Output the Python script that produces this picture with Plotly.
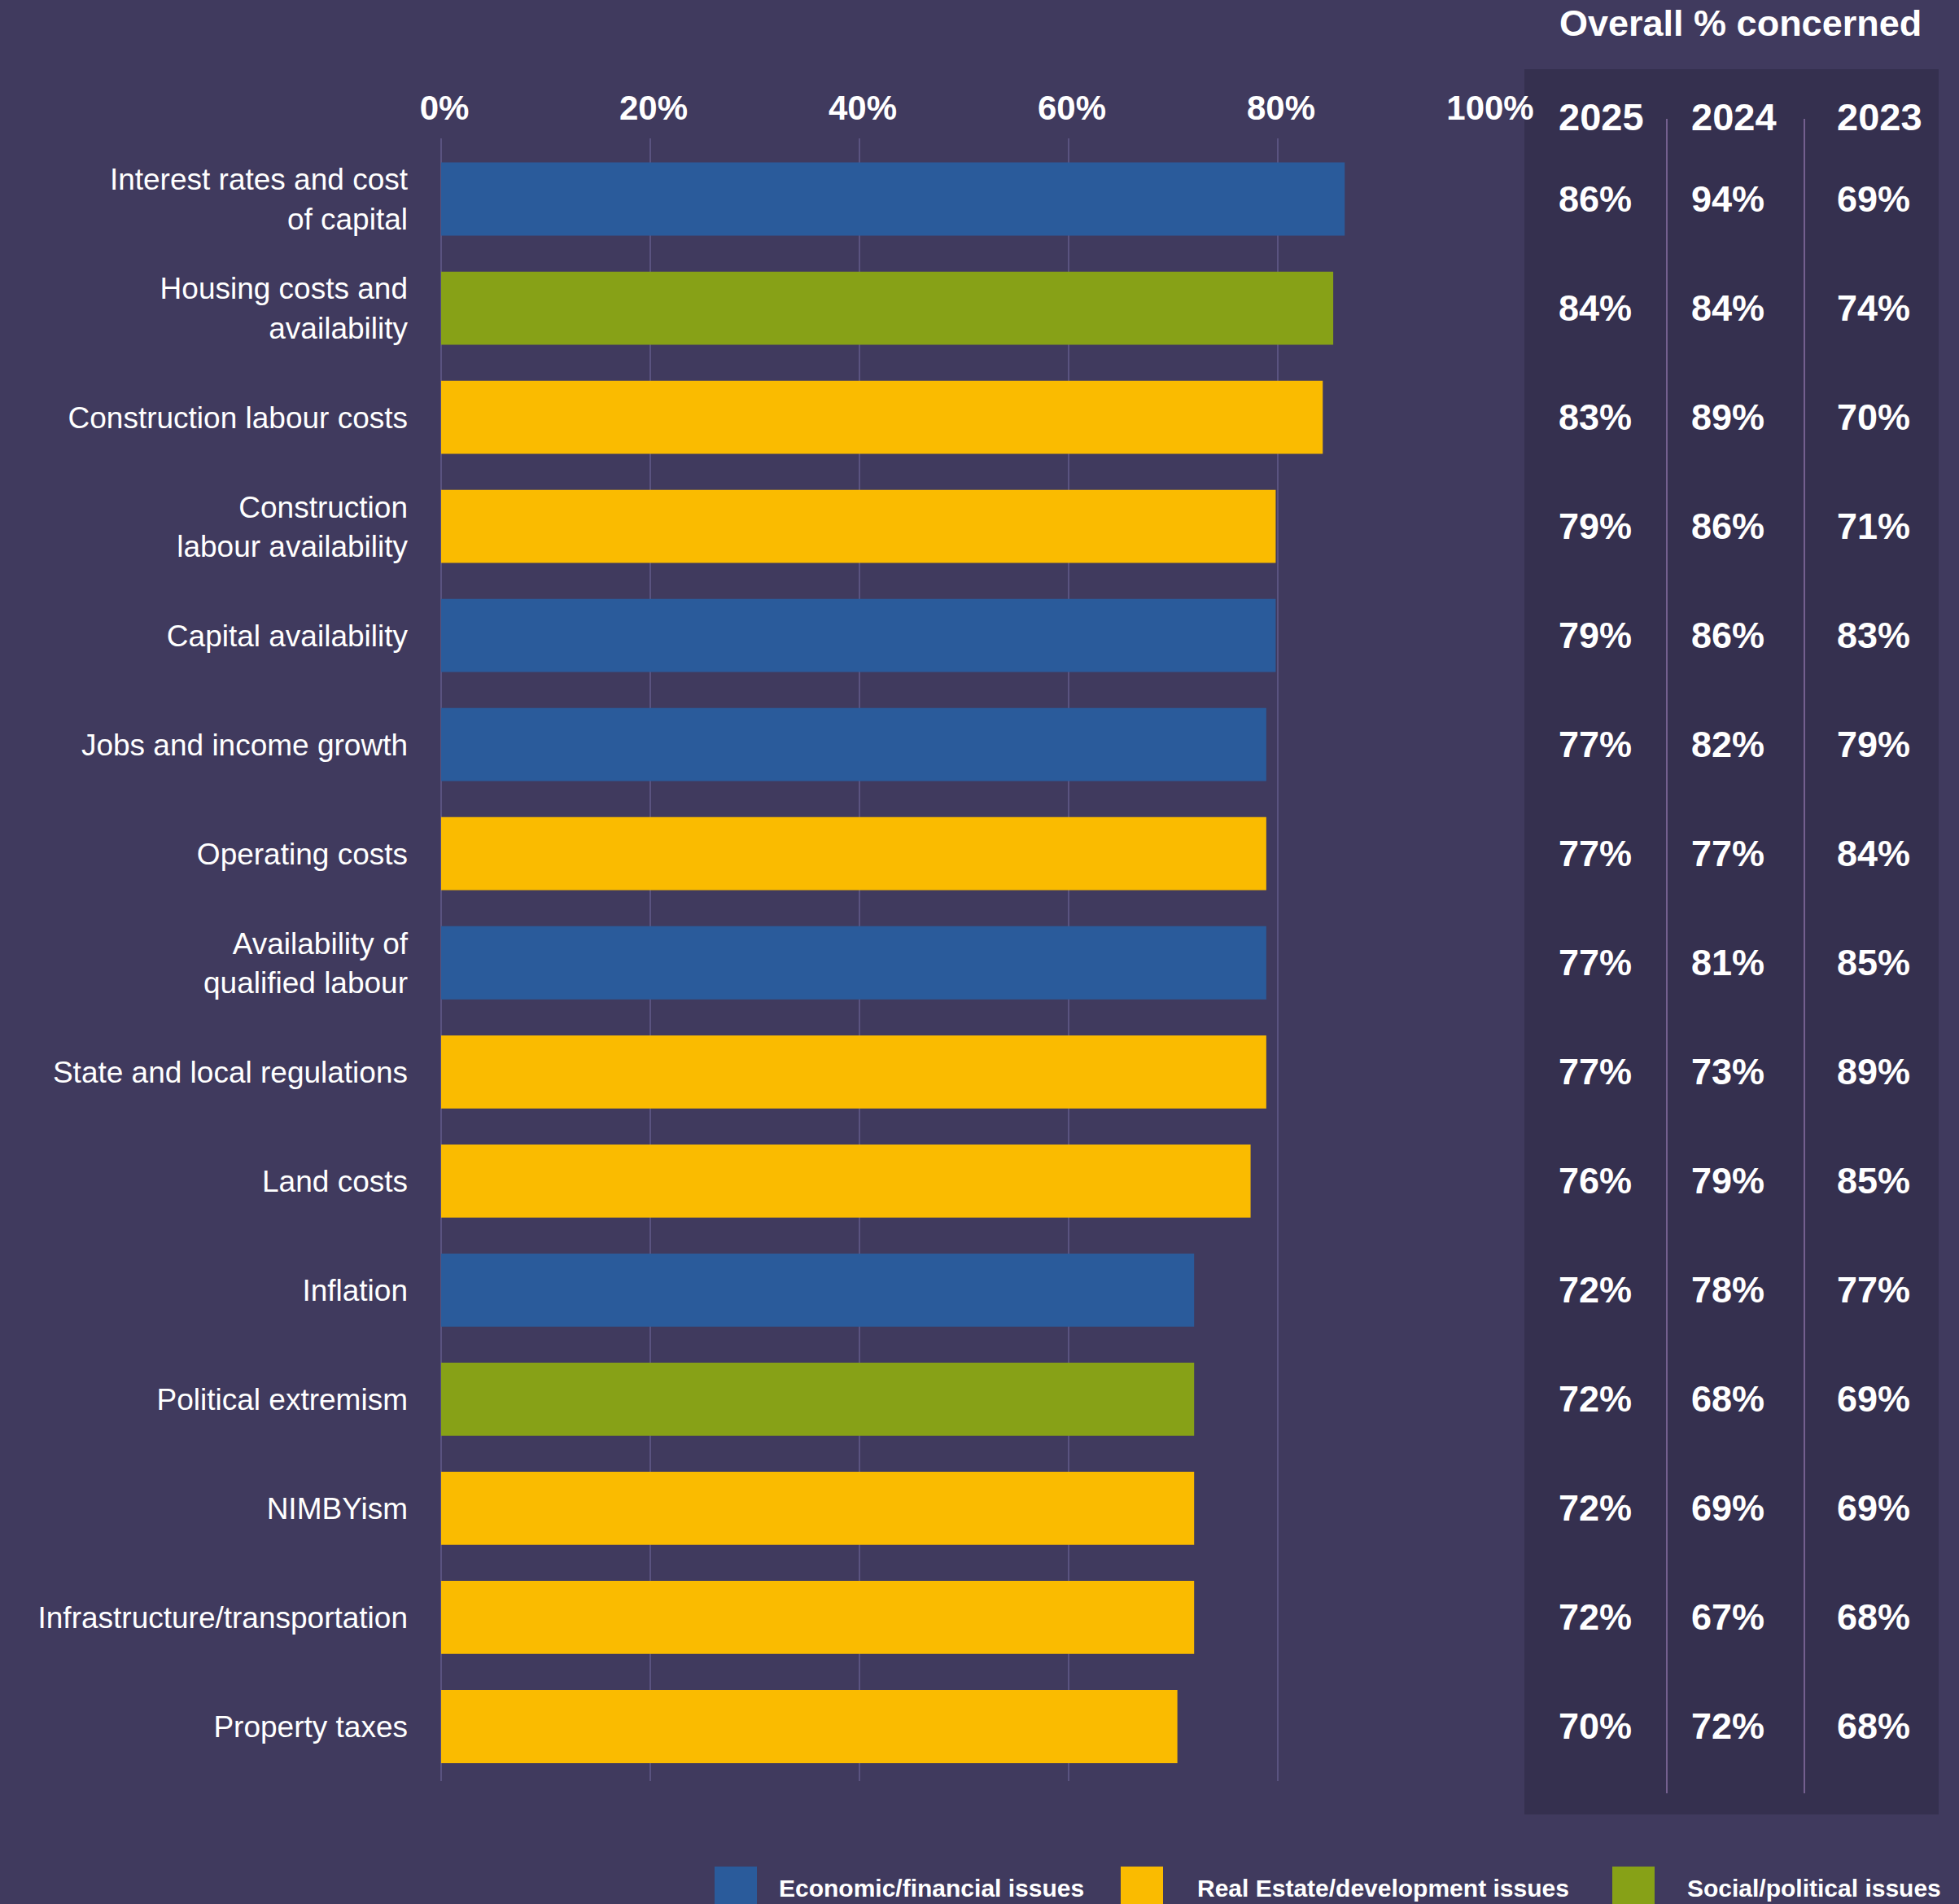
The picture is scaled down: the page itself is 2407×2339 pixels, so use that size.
import plotly.graph_objects as go

# ---------------- data ----------------
categories = [
    "Interest rates and cost<br>of capital",
    "Housing costs and<br>availability",
    "Construction labour costs",
    "Construction<br>labour availability",
    "Capital availability",
    "Jobs and income growth",
    "Operating costs",
    "Availability of<br>qualified labour",
    "State and local regulations",
    "Land costs",
    "Inflation",
    "Political extremism",
    "NIMBYism",
    "Infrastructure/transportation",
    "Property taxes",
]
groups = [
    "Economic/financial issues",
    "Social/political issues",
    "Real Estate/development issues",
    "Real Estate/development issues",
    "Economic/financial issues",
    "Economic/financial issues",
    "Real Estate/development issues",
    "Economic/financial issues",
    "Real Estate/development issues",
    "Real Estate/development issues",
    "Economic/financial issues",
    "Social/political issues",
    "Real Estate/development issues",
    "Real Estate/development issues",
    "Real Estate/development issues",
]
# bar lengths as drawn in the picture (2025 share)
bar_values = [86.4, 85.3, 84.3, 79.8, 79.8, 78.9, 78.9, 78.9, 78.9, 77.4, 72.0, 72.0, 72.0, 72.0, 70.4]
# table values
values_2025 = [86, 84, 83, 79, 79, 77, 77, 77, 77, 76, 72, 72, 72, 72, 70]
values_2024 = [94, 84, 89, 86, 86, 82, 77, 81, 73, 79, 78, 68, 69, 67, 72]
values_2023 = [69, 74, 70, 71, 83, 79, 84, 85, 89, 85, 77, 69, 69, 68, 68]
years = ["2025", "2024", "2023"]
tick_vals = [0, 20, 40, 60, 80, 100]
tick_text = ["0%", "20%", "40%", "60%", "80%", "100%"]
group_names = ["Economic/financial issues", "Real Estate/development issues", "Social/political issues"]
group_colors = ["#2a5b9b", "#fabb00", "#87a117"]
table_title = "Overall % concerned"

# ---------------- styling ----------------
W, H = 2407, 2339
L, R, T, B = 542, 1827, 170, 2188
BG = "#403a5e"
PANEL = "#35304f"
GRID = "#5a5380"
DIVIDER = "#74608f"
FONT = "Liberation Sans, Arial, Helvetica, sans-serif"


def px(x):
    return (x - L) / (R - L)


def py(y):
    return 1 - (y - T) / (B - T)


fig = go.Figure()

for g, c in zip(group_names, group_colors):
    idx = [i for i, gg in enumerate(groups) if gg == g]
    fig.add_trace(go.Bar(
        x=[bar_values[i] for i in idx],
        y=idx,
        orientation="h",
        marker=dict(color=c, line=dict(width=0)),
        width=0.67,
        name=g,
        showlegend=False,
        hoverinfo="x+y",
    ))

shapes = []
annotations = []

# table panel
shapes.append(dict(type="rect", xref="paper", yref="paper",
                   x0=px(1873), x1=px(2382), y0=py(85), y1=py(2229),
                   fillcolor=PANEL, line=dict(width=0), layer="below"))
# column dividers
for xd in [2048, 2217]:
    shapes.append(dict(type="line", xref="paper", yref="paper",
                       x0=px(xd), x1=px(xd), y0=py(146), y1=py(2203),
                       line=dict(color=DIVIDER, width=2), layer="above"))

col_x = [1915, 2078, 2257]
# title
annotations.append(dict(text=table_title, xref="paper", yref="paper",
                        x=px(1914), y=py(29), xanchor="left", yanchor="middle",
                        showarrow=False, font=dict(family=FONT, size=45, color="white", weight="bold")))
# year headers
for yr, cx in zip(years, col_x):
    annotations.append(dict(text=yr, xref="paper", yref="paper",
                            x=px(cx - 2), y=py(143), xanchor="left", yanchor="middle",
                            showarrow=False, font=dict(family=FONT, size=47, color="white", weight="bold")))
# values
for col, cx in zip([values_2025, values_2024, values_2023], col_x):
    for i, v in enumerate(col):
        annotations.append(dict(text=f"{v}%", xref="paper", yref="y",
                                x=px(cx - 2), y=i, xanchor="left", yanchor="middle",
                                showarrow=False, font=dict(family=FONT, size=45, color="white", weight="bold")))

# custom legend
leg_sq = [878, 1377, 1981]
leg_tx = [955, 1469, 2071]
for g, c, sx, tx in zip(group_names, group_colors, leg_sq, leg_tx):
    shapes.append(dict(type="rect", xref="paper", yref="paper",
                       x0=px(sx), x1=px(sx + 52), y0=py(2293), y1=py(2345),
                       fillcolor=c, line=dict(width=0)))
    annotations.append(dict(text=g, xref="paper", yref="paper",
                            x=px(tx), y=py(2319), xanchor="left", yanchor="middle",
                            showarrow=False, font=dict(family=FONT, size=30, color="white", weight="bold")))

fig.update_layout(
    width=W, height=H,
    margin=dict(l=L, r=W - R, t=T, b=H - B, pad=0),
    paper_bgcolor=BG, plot_bgcolor=BG,
    shapes=shapes,
    annotations=annotations,
    showlegend=False,
    font=dict(family=FONT, color="white"),
)
fig.update_xaxes(
    side="top", range=[0, 100], tickvals=tick_vals, ticktext=tick_text,
    showgrid=True, gridcolor=GRID, gridwidth=2,
    zeroline=True, zerolinecolor=GRID, zerolinewidth=2,
    showline=False, ticks="", ticklabelstandoff=14, ticklabelshift=4,
    tickfont=dict(family=FONT, size=42, color="white", weight="bold"),
    fixedrange=True,
)
fig.update_yaxes(
    range=[14.5, -0.556], tickvals=list(range(len(categories))), ticktext=categories,
    showgrid=False, zeroline=False, showline=False, ticks="", ticklabelstandoff=40,
    tickfont=dict(family=FONT, size=37, color="white"),
    fixedrange=True,
)

fig.write_html(
    "out.html",
    config={"displayModeBar": False},
    post_script="document.body.style.margin='0px';document.body.style.padding='0px';"
                "document.documentElement.style.background='" + BG + "';",
)
